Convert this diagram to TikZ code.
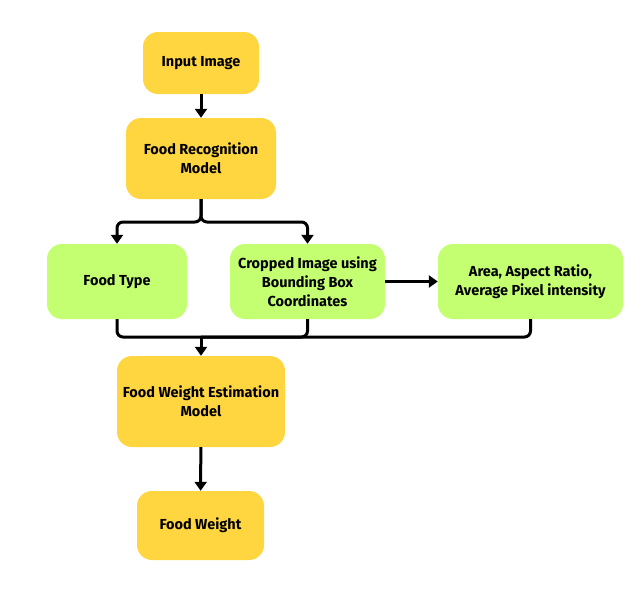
\documentclass[tikz,border=0pt]{standalone}
\usepackage{fontspec}
\setmainfont{Fira Sans}
\usetikzlibrary{arrows.meta}
\definecolor{yel}{HTML}{FFD63F}
\definecolor{lime}{HTML}{C4FF72}
\begin{document}
\begin{tikzpicture}[x=1pt,y=-1pt,
  box/.style={rounded corners=15pt,inner sep=0pt,align=center,font=\fontsize{14.5}{19}\selectfont\bfseries},
  ybox/.style={box,fill=yel},
  gbox/.style={box,fill=lime},
  conn/.style={line width=3pt,black,-{Triangle[length=9pt,width=12pt]}},
  line/.style={line width=3pt,black}]
\useasboundingbox[fill=white] (0,0) rectangle (644,600);
\node[ybox,minimum width=116pt,minimum height=62pt] (in) at (201,63) {Input Image};
\node[ybox,minimum width=150pt,minimum height=81pt] (frm) at (201,158.5) {Food Recognition\\Model};
\node[gbox,minimum width=140pt,minimum height=75pt] (ft) at (117,281.5) {Food Type};
\node[gbox,minimum width=155pt,minimum height=75pt] (crop) at (307.5,281.5) {Cropped Image using\\Bounding Box\\Coordinates};
\node[gbox,minimum width=185pt,minimum height=75pt] (area) at (530.5,281.5) {Area, Aspect Ratio,\\Average Pixel intensity};
\node[ybox,minimum width=168pt,minimum height=91pt] (fwem) at (201,401.5) {Food Weight Estimation\\Model};
\node[ybox,minimum width=127pt,minimum height=69pt] (fw) at (200.5,525.5) {Food Weight};
\coordinate (b) at (201,222);
\coordinate (m) at (201,337);
\draw[conn] (in) -- (frm);
\draw[conn,rounded corners=6pt] (frm.south) -- (b) -| (ft.north);
\draw[conn,rounded corners=6pt] (frm.south) -- (b) -| (crop.north);
\draw[conn] (crop) -- (area);
\draw[line,rounded corners=6pt] (ft.south) |- (m);
\draw[line,rounded corners=6pt] (crop.south) |- (m);
\draw[line,rounded corners=6pt] (area.south) |- (m);
\draw[conn] (m) -- (fwem.north);
\draw[conn] (fwem) -- (fw);
\end{tikzpicture}
\end{document}
